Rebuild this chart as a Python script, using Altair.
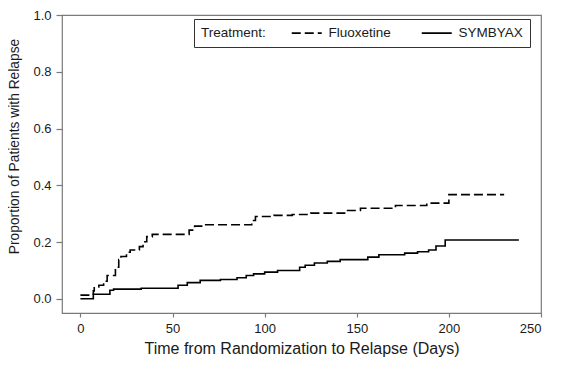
import altair as alt
import pandas as pd

flu_t = [0, 7, 7.5, 10, 12.6, 14.5, 19, 20.8, 22, 25, 27, 32, 34, 36, 39, 59, 62, 68, 93, 95, 105, 115, 125, 145, 152, 171, 188, 200, 230]
flu_p = [0.013, 0.028, 0.042, 0.048, 0.062, 0.082, 0.111, 0.138, 0.149, 0.164, 0.172, 0.184, 0.201, 0.219, 0.227, 0.242, 0.256, 0.261, 0.276, 0.290, 0.294, 0.297, 0.302, 0.311, 0.319, 0.329, 0.337, 0.367, 0.367]

sym_t = [0, 7, 16, 18, 33, 53, 58, 65, 76, 85, 90, 94, 100, 107, 119, 122, 127, 134, 141, 156, 162, 176, 183, 189, 193, 198, 238]
sym_p = [0.0, 0.016, 0.030, 0.034, 0.037, 0.048, 0.057, 0.065, 0.068, 0.074, 0.082, 0.088, 0.094, 0.100, 0.111, 0.118, 0.126, 0.132, 0.138, 0.147, 0.155, 0.161, 0.166, 0.172, 0.186, 0.207, 0.207]

series = ["Fluoxetine", "SYMBYAX"]
x_ticks = [0, 50, 100, 150, 200, 250]
y_ticks = [0.0, 0.2, 0.4, 0.6, 0.8, 1.0]

df = pd.concat([
    pd.DataFrame({"t": flu_t, "p": flu_p, "Treatment": series[0], "o": range(len(flu_t))}),
    pd.DataFrame({"t": sym_t, "p": sym_p, "Treatment": series[1], "o": range(len(sym_t))}),
])

FONT = "Liberation Sans"
TXT = "#1a1a1a"
FRAME = "#7a7a7a"

chart = alt.Chart(df).mark_line(interpolate="step-after", color="black", strokeWidth=1.6).encode(
    x=alt.X("t:Q", scale=alt.Scale(domain=[-10, 250], nice=False, zero=False),
            axis=alt.Axis(values=x_ticks, title="Time from Randomization to Relapse (Days)",
                          grid=False, domain=False, tickSize=4, labelPadding=5,
                          titleY=27.5, titleFontSize=16, labelFontSize=13)),
    y=alt.Y("p:Q", scale=alt.Scale(domain=[-0.05, 1.0], nice=False, zero=False),
            axis=alt.Axis(values=y_ticks, format=".1f", title="Proportion of Patients with Relapse",
                          grid=False, domain=False, tickSize=6, labelPadding=5,
                          titleX=-41, titleY=131, titleAngle=270, titleAlign="center",
                          titleBaseline="bottom", titleFontSize=13.8, labelFontSize=13)),
    strokeDash=alt.StrokeDash("Treatment:N",
                              scale=alt.Scale(domain=series, range=[[9, 4], [1, 0]]),
                              legend=alt.Legend(
                                  orient="none", legendX=132, legendY=4, direction="horizontal",
                                  title="\u00a0\u00a0Treatment:", titleOrient="left",
                                  titleFontWeight="normal", titleBaseline="middle",
                                  titleFontSize=13.5, labelFontSize=13.5,
                                  titleFont=FONT, labelFont=FONT,
                                  titleColor=TXT, labelColor=TXT,
                                  strokeColor="#333333", padding=7,
                                  symbolType="M-1,0L5,0", symbolSize=100,
                                  symbolStrokeColor="black", symbolFillColor="transparent",
                                  symbolStrokeWidth=1.6,
                                  columnPadding=27, titlePadding=24, labelOffset=25)),
    order="o:Q",
).properties(
    width=479, height=298,
    autosize=alt.AutoSizeParams(type="none"),
    padding={"left": 54, "top": 7, "right": 13, "bottom": 44},
).configure_view(
    stroke=FRAME, strokeWidth=1.2
).configure_axis(
    labelFont=FONT, titleFont=FONT, labelColor=TXT, titleColor=TXT,
    titleFontWeight="normal", tickColor=FRAME, tickWidth=1.2
)

chart.save("out.html", embed_options={"renderer": "svg", "actions": False})
